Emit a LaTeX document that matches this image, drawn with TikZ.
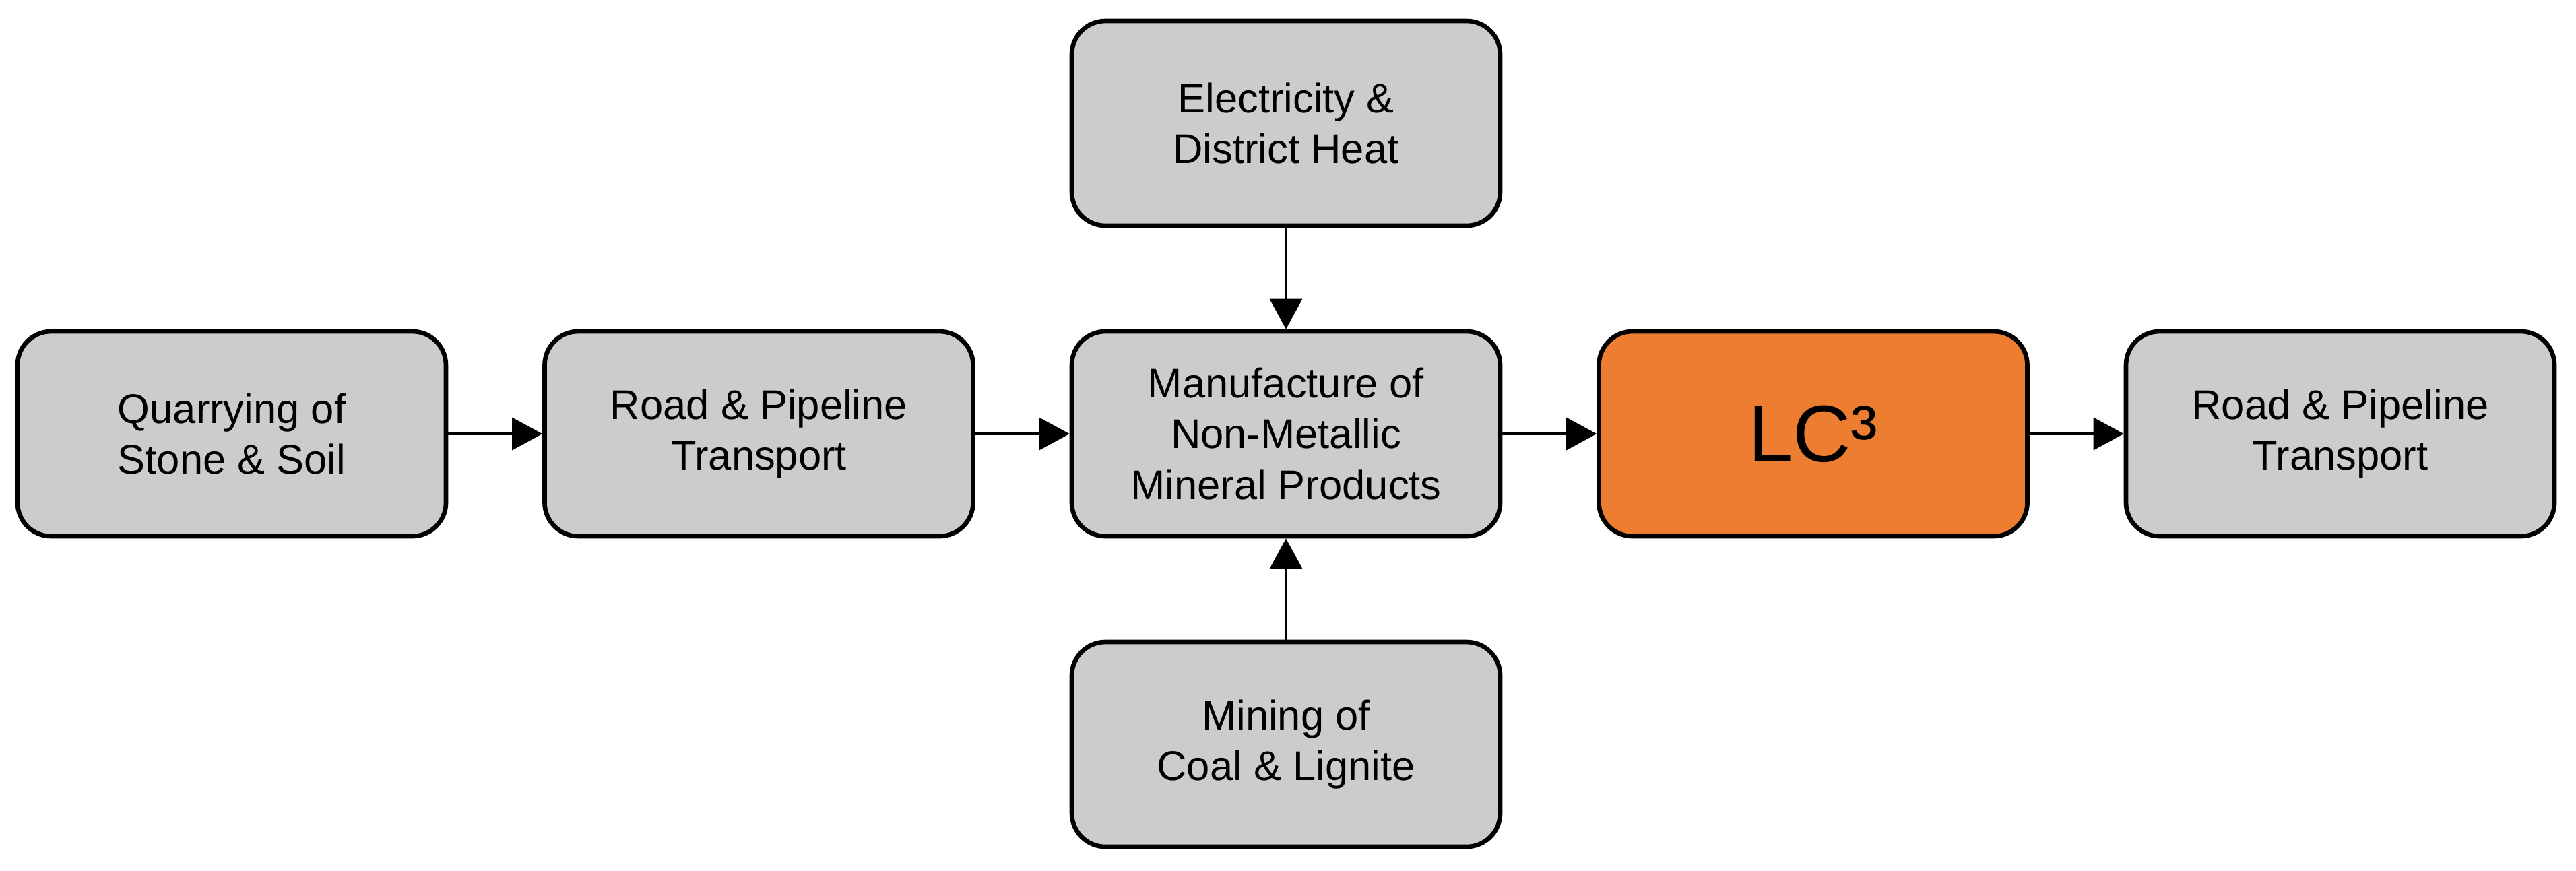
\documentclass[tikz,border=0pt]{standalone}
\usepackage{fontspec}
\setmainfont{Liberation Sans}
\usetikzlibrary{arrows.meta}
\definecolor{boxgray}{RGB}{204,204,204}
\definecolor{lcorange}{RGB}{237,125,49}

\begin{document}
\begin{tikzpicture}[
    stage/.style={draw, line width=1.9pt, rounded corners=0.5cm, fill=boxgray,
      minimum width=6.36cm, minimum height=3.04cm, align=center,
      font=\fontsize{17.5}{21.5}\selectfont},
    flow/.style={line width=1pt, -{Triangle[length=0.45cm, width=0.48cm]}},
]
\useasboundingbox (0,0) rectangle (38.24,-12.92);

\node[stage] (quarry) at (3.44,-6.44) {Quarrying of\\Stone \& Soil};
\node[stage] (road1) at (11.265,-6.44) {Road \& Pipeline\\Transport};
\node[stage] (manuf) at (19.09,-6.44) {Manufacture of\\Non-Metallic\\Mineral Products};
\node[stage, fill=lcorange, font=\fontsize{34}{40}\selectfont] (lc3) at (26.915,-6.44) {LC³};
\node[stage] (road2) at (34.74,-6.44) {Road \& Pipeline\\Transport};

\node[stage] (elec) at (19.09,-1.83) {Electricity \&\\District Heat};
\node[stage] (coal) at (19.09,-11.05) {Mining of\\Coal \& Lignite};

\draw[flow] (quarry) -- (road1);
\draw[flow] (road1) -- (manuf);
\draw[flow] (manuf) -- (lc3);
\draw[flow] (lc3) -- (road2);
\draw[flow] (elec) -- (manuf);
\draw[flow] (coal) -- (manuf);
\end{tikzpicture}
\end{document}
